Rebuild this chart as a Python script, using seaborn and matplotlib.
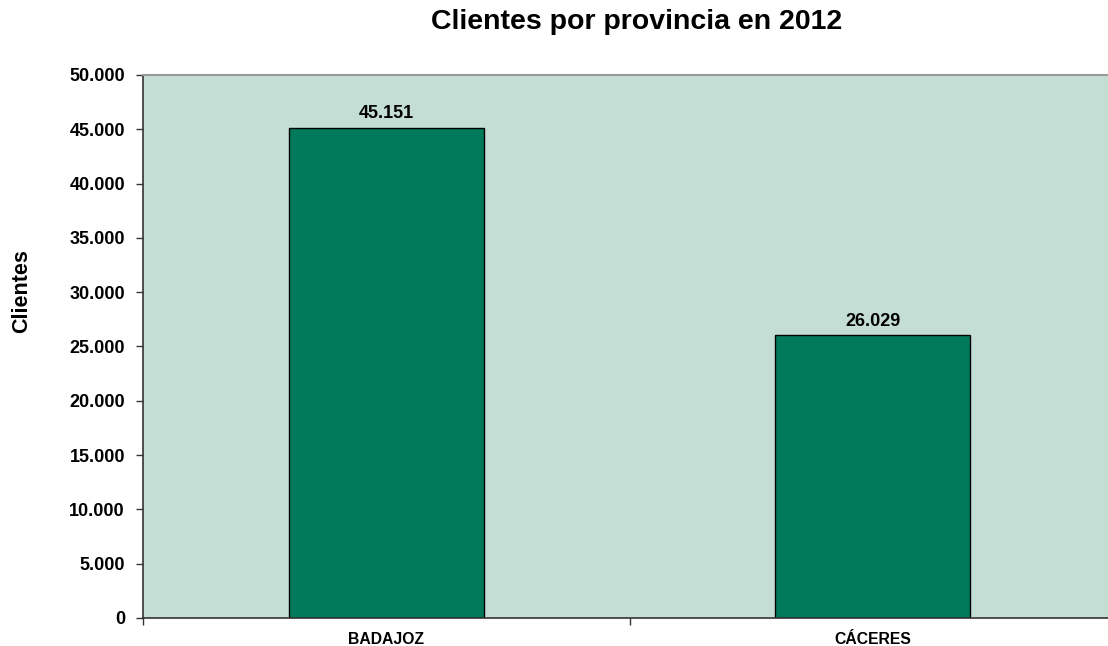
import matplotlib

matplotlib.use("Agg")
import matplotlib.pyplot as plt
import pandas as pd
import seaborn as sns
from matplotlib.ticker import FuncFormatter, FixedLocator

provincias = ["BADAJOZ", "CÁCERES"]
clientes = [45151, 26029]
y_ticks = list(range(0, 50001, 5000))

sns.set_style("white")
plt.rcParams["font.family"] = ["Liberation Sans", "DejaVu Sans"]
plt.rcParams["font.weight"] = "bold"
plt.rcParams["text.color"] = "black"
plt.rcParams["xtick.color"] = "black"
plt.rcParams["ytick.color"] = "black"
plt.rcParams["axes.labelcolor"] = "black"


def miles(v, pos=None):
    return f"{int(v):,}".replace(",", ".")


frame = pd.DataFrame({"provincia": provincias, "clientes": clientes})

fig = plt.figure(figsize=(11.08, 6.46), dpi=100)
ax = fig.add_axes([143 / 1108, 28 / 646, 973 / 1108, 543 / 646])

sns.barplot(
    data=frame, x="provincia", y="clientes", color="#007A5B",
    saturation=1, width=0.4, edgecolor="black", linewidth=1, ax=ax,
)
ax.set_facecolor("#C4DED6")
ax.set_xlim(-0.5, 1.5)
ax.set_ylim(0, 50000)
ax.set_yticks(y_ticks)
ax.yaxis.set_major_formatter(FuncFormatter(miles))

for i, v in enumerate(clientes):
    ax.annotate(miles(v), (i, v), xytext=(0, 4), textcoords="offset points",
                ha="center", va="bottom", fontsize=13, fontweight="bold")

ax.tick_params(axis="y", left=True, length=5, width=1, color="#333333", pad=8,
               labelsize=13, direction="out")
ax.tick_params(axis="x", which="major", bottom=False, length=0, pad=10, labelsize=11.3)
ax.xaxis.set_minor_locator(FixedLocator([-0.5, 0.5, 1.5]))
ax.tick_params(axis="x", which="minor", bottom=True, length=5, width=1,
               color="#333333", direction="out")
for lab in ax.get_xticklabels() + ax.get_yticklabels():
    lab.set_fontweight("bold")

for side in ["left", "bottom"]:
    ax.spines[side].set_color("#333333")
    ax.spines[side].set_linewidth(1.2)
for side in ["top", "right"]:
    ax.spines[side].set_color("#999999")
    ax.spines[side].set_linewidth(1.5)

ax.set_xlabel("")
ax.set_ylabel("Clientes", fontsize=15.5, fontweight="bold")
ax.yaxis.set_label_coords(-0.114, (618 - 291) / 543)
fig.text(637 / 1108, 1 - 22 / 646, "Clientes por provincia en 2012",
         ha="center", va="center", fontsize=20.5, fontweight="bold")

fig.savefig("out.png", dpi=100)
